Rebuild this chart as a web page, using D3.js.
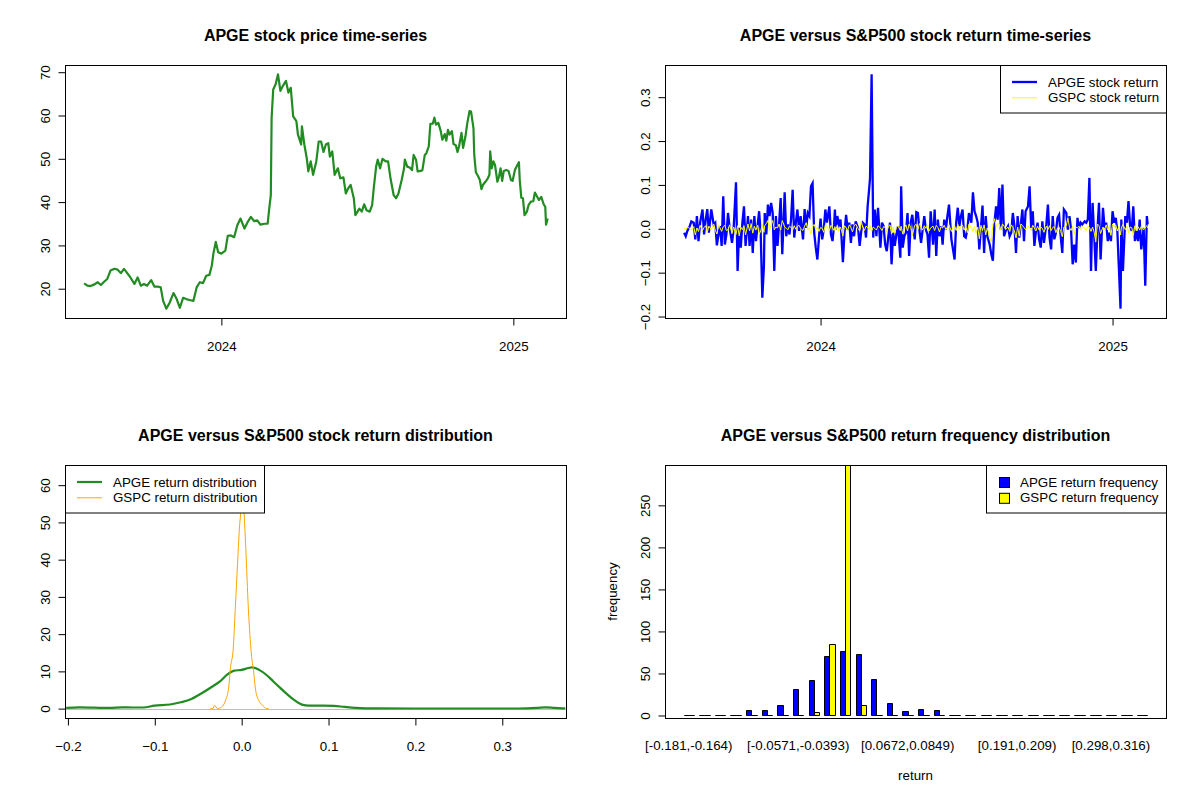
<!DOCTYPE html>
<html>
<head>
<meta charset="UTF-8" />
<title>APGE versus S&amp;P500</title>
<script src="https://cdn.jsdelivr.net/npm/d3@7"></script>
<style>
  body { margin: 0; background: #fff; }
  svg { font-family: "Liberation Sans", Arial, sans-serif; }
</style>
</head>
<body>
<svg></svg>
<script>
// ---- data (days counted from 2023-07-13) ----
const startDate = "2023-07-13"

const priceDays = [
  0, 4, 8, 13, 17, 21, 25, 29, 33, 38, 42, 46, 50, 54, 58, 63, 67, 71, 75, 79,
  84, 88, 92, 96, 99, 103, 107, 112, 116, 120, 124, 128, 132, 137, 141, 145, 149, 153, 157, 160,
  162, 165, 168, 172, 177, 180, 184, 188,
  192, 196, 201, 205, 209, 213, 217, 221, 226, 230, 232, 234, 235, 237, 240, 243, 246, 249, 253, 256,
  259, 262, 266, 268, 272, 273, 276, 279, 281, 284, 287, 291, 294, 297, 300, 303, 306, 308, 311, 314,
  318, 321, 325, 328, 331, 334, 338, 340, 345, 348, 351, 354, 358, 361, 363, 366, 368, 371, 374, 378,
  381, 384, 388, 391, 394,
  398, 401, 402, 405, 408, 411, 413, 416, 418, 422, 424, 427, 429, 432, 434, 437, 439, 441, 444, 447,
  449, 452, 454, 456, 458, 461, 463, 466, 468, 470, 473, 475, 478, 480, 483, 485, 488, 489, 491, 494,
  496, 498, 500, 503, 506, 508, 509, 511, 513, 515, 518, 520, 522, 524, 526, 529, 532, 535, 537, 540,
  542, 545, 546, 548, 550, 552, 555, 557, 560, 563, 565, 568, 570, 573, 576, 578, 579, 581
]
const apgePrice = [
  21.24, 20.7, 20.6, 21.0, 21.5, 20.85, 21.6, 22.25, 24.2, 24.6, 24.4, 23.6, 24.6, 23.6, 22.6, 21.1, 22.6, 20.7, 21.1, 20.7,
  22.0, 20.5, 20.5, 20.3, 17.2, 15.4, 16.7, 19.0, 17.6, 15.6, 17.9, 17.6, 17.4, 17.2, 20.3, 21.5, 21.3, 23.0, 23.2, 25.3,
  28.1, 30.8, 28.4, 28.1, 28.8, 32.2, 32.3, 31.9,
  34.65, 36.2, 33.9, 35.4, 36.6, 35.6, 35.8, 34.8, 35.0, 35.0, 38.5, 41.6, 59.5, 66.0, 67.2, 69.5, 65.7, 66.8, 68.0, 65.3,
  66.4, 59.8, 58.7, 55.6, 53.3, 57.5, 53.3, 50.2, 47.1, 49.4, 46.3, 49.4, 54.0, 54.0, 51.6, 53.3, 53.6, 50.5, 51.7, 46.3,
  47.8, 45.5, 45.7, 42.0, 43.2, 44.0, 40.9, 37.0, 38.5, 37.8, 39.5, 38.1, 37.8, 39.3, 43.2, 48.2, 49.8, 47.8, 50.0, 49.4,
  49.4, 45.5, 41.6, 40.9, 42.0,
  45.1, 47.8, 49.8, 48.2, 48.0, 47.4, 50.9, 49.8, 47.1, 47.2, 47.4, 50.9, 51.3, 52.9, 58.1, 58.1, 59.5, 57.9, 58.3, 56.4,
  54.4, 55.7, 54.2, 56.7, 55.6, 56.4, 53.4, 53.1, 51.6, 52.9, 56.0, 52.5, 55.2, 57.9, 61.0, 60.9, 57.1, 50.9, 46.9, 45.9,
  45.1, 43.0, 44.0, 44.7, 45.5, 46.3, 51.7, 47.8, 49.4, 48.6, 44.7, 45.9, 47.8, 44.9, 47.2, 47.4, 47.2, 45.1, 44.9, 47.4,
  48.2, 49.2, 45.1, 41.0, 40.9, 37.0, 37.8, 39.3, 40.1, 40.2, 42.2, 41.2, 40.5, 41.2, 39.5, 38.9, 34.8, 36.2
]

const retDays = [
  1, 3, 5, 8, 10, 13, 15, 17, 19, 21, 24, 26, 28, 30, 32, 35, 38, 40, 42, 44,
  46, 48, 50, 52, 54, 56, 58, 61, 63, 66, 68, 70, 72, 74, 76, 78, 81, 83, 85, 87,
  89, 91, 93, 95, 97, 99, 101, 102, 104, 106, 108, 110, 112, 114, 116, 118, 120, 122, 124, 127,
  129, 131, 133, 135, 137, 139, 141, 143, 145, 147, 150, 152, 154, 156, 158, 160, 162, 164, 166, 168,
  170, 172, 174, 176, 178, 180, 183, 185, 187, 189, 190, 191, 193, 195, 197, 200, 202, 204, 206, 208,
  210, 212, 214, 216, 219, 221, 223, 225, 227, 229, 231, 233, 234, 236, 238, 240, 242, 244, 247, 249,
  251, 253, 255, 257, 259, 261, 263, 265, 267, 269, 272, 273, 275, 277, 279, 281, 283, 285, 287, 290,
  292, 294, 296, 298, 300, 302, 304, 306, 308, 310, 313, 315, 317, 319, 321, 323, 325, 327, 329, 331,
  333, 336, 338, 340, 342, 344, 346, 348, 350, 352, 354, 356, 358, 361, 363, 365, 367, 369, 371, 373,
  375, 377, 379, 381, 384, 386, 388, 390, 392, 394, 396, 398, 400, 402, 404, 407, 409, 411, 413, 415,
  417, 419, 421, 423, 425, 427, 429, 432, 434, 436, 438, 440, 442, 444, 446, 448, 450, 452, 455, 457,
  459, 461, 463, 465, 467, 469, 471, 473, 475, 477, 480, 482, 484, 486, 488, 490, 492, 494, 496, 498,
  500, 503, 505, 507, 509, 511, 513, 515, 517, 519, 521, 523, 526, 528, 530, 532, 534, 536, 538, 540,
  542, 544, 546, 548, 549, 551, 554, 556, 558, 560, 562, 564, 566, 568, 570, 572, 574, 577, 579, 581,
  582
]
const apgeRet = [
  -0.009, -0.017, -0.005, 0.006, 0.017, 0.014, -0.024, 0.029, -0.028, 0.014,
  0.044, -0.013, 0.021, 0.045, -0.009, 0.044, 0.010, 0.014, -0.038, -0.013,
  0.006, -0.039, 0.074, -0.036, -0.013, 0.036, 0.002, -0.032, -0.002, 0.106,
  -0.096, 0.002, -0.043, 0.014, 0.051, -0.039, 0.029, -0.039, 0.021, -0.055,
  0.029, -0.028, 0.006, 0.040, -0.013, -0.157, -0.085, 0.036, -0.013, 0.055,
  0.029, 0.059, 0.036, -0.096, 0.029, -0.039, 0.010, 0.070, -0.058, 0.083,
  -0.017, 0.010, -0.013, 0.021, 0.089, -0.020, 0.014, 0.044, -0.005, 0.029,
  -0.024, 0.045, 0.002, 0.036, 0.029, 0.097, 0.104, -0.009, -0.043, -0.070,
  -0.020, 0.023, -0.024, -0.002, 0.044, 0.014, 0.051, -0.013, -0.028, 0.010,
  0.044, -0.002, 0.029, 0.010, 0.021, -0.076, -0.009, 0.032, -0.002, 0.014,
  -0.032, 0.010, -0.017, 0.017, 0.002, -0.039, -0.005, 0.014, 0.010, -0.020,
  0.051, 0.093, 0.116, 0.352, -0.020, 0.044, -0.017, 0.048, -0.043, 0.014,
  0.006, -0.036, -0.051, -0.017, 0.014, -0.081, -0.009, -0.039, -0.013, 0.006,
  -0.066, 0.097, -0.043, -0.017, -0.009, 0.036, -0.062, 0.014, 0.032, -0.024,
  0.038, 0.036, -0.005, -0.032, -0.002, 0.029, -0.002, -0.013, -0.066, 0.040,
  -0.036, 0.044, -0.062, 0.021, -0.017, 0.006, -0.036, 0.021, -0.002, 0.029,
  0.055, -0.024, -0.047, -0.070, 0.014, 0.048, 0.006, 0.029, 0.044, -0.017,
  -0.020, -0.002, 0.036, 0.014, 0.083, 0.040, 0.029, 0.014, -0.047, 0.002,
  0.053, -0.055, 0.029, -0.017, -0.036, -0.058, -0.073, 0.014, 0.051, 0.021,
  0.093, -0.002, 0.101, -0.017, -0.005, 0.006, -0.017, -0.009, 0.036, 0.006,
  -0.055, 0.029, -0.020, 0.010, 0.044, -0.028, 0.040, 0.051, 0.097, 0.002,
  0.040, -0.039, -0.005, 0.014, -0.024, -0.043, 0.017, -0.032, 0.010, 0.055,
  -0.020, -0.047, 0.029, -0.024, -0.009, 0.025, 0.032, -0.017, -0.055, 0.044,
  0.036, -0.002, 0.029, -0.002, -0.081, -0.036, -0.077, 0.025, 0.002, 0.014,
  0.010, 0.017, 0.014, 0.021, 0.116, -0.096, 0.059, -0.017, -0.096, -0.005,
  0.059, -0.070, 0.048, 0.002, 0.014, -0.028, -0.009, -0.028, 0.040, 0.014,
  0.025, -0.005, -0.092, -0.182, 0.021, -0.096, 0.029, 0.014, 0.063, 0.006,
  -0.005, 0.051, -0.028, -0.005, -0.028, 0.021, -0.047, 0.002, -0.130, 0.029,
  0.010
]
const gspcRet = [
  0.003, -0.002, 0.004, 0.001, -0.003, 0.005, -0.014, 0.002, -0.006, 0.008,
  -0.004, 0.003, 0.007, -0.008, 0.006, -0.002, 0.011, -0.003, -0.012, 0.009,
  0.002, -0.006, 0.005, 0.008, -0.004, -0.002, 0.009, -0.011, 0.004, -0.013,
  0.007, -0.016, 0.004, -0.002, 0.007, -0.014, 0.011, -0.005, 0.012, -0.010,
  0.006, -0.003, 0.008, -0.013, -0.005, 0.010, -0.008, 0.007, 0.012, 0.019,
  -0.004, 0.009, 0.019, -0.002, 0.004, 0.002, 0.011, -0.003, 0.019, 0.004,
  0.001, -0.002, 0.006, 0.003, -0.003, 0.007, -0.001, 0.005, 0.008, 0.001,
  -0.004, 0.006, 0.014, -0.003, 0.002, -0.012, 0.005, 0.010, -0.002, 0.004,
  -0.006, 0.003, 0.001, -0.008, 0.009, 0.006, -0.005, 0.008, 0.003, -0.004,
  0.005, -0.003, 0.008, -0.006, 0.004, -0.016, 0.007, 0.002, -0.004, 0.009,
  0.003, -0.007, 0.006, 0.011, 0.001, -0.005, 0.018, 0.002, -0.004, 0.006,
  0.003, -0.002, 0.008, -0.006, 0.004, 0.001, -0.003, 0.007, 0.002, -0.004,
  0.005, 0.003, -0.008, 0.006, 0.009, -0.012, 0.004, -0.010, 0.003, 0.007,
  -0.004, 0.006, -0.012, 0.002, 0.009, -0.005, 0.011, 0.003, -0.016, 0.008,
  0.010, -0.002, 0.012, 0.004, -0.003, 0.007, 0.001, 0.009, -0.005, 0.002,
  0.006, -0.004, 0.008, 0.003, -0.007, 0.005, 0.002, 0.008, -0.002, 0.004,
  0.009, -0.006, 0.003, 0.007, -0.004, 0.010, -0.002, 0.005, 0.008, -0.003,
  0.006, -0.009, 0.011, 0.003, -0.006, 0.005, -0.010, 0.004, -0.023, 0.008,
  -0.004, 0.009, -0.014, 0.002, -0.019, -0.030, 0.010, 0.023, 0.005, 0.012,
  0.010, -0.003, 0.011, 0.006, -0.002, 0.004, -0.006, 0.009, 0.003, -0.005,
  -0.021, 0.004, -0.017, 0.011, 0.008, 0.003, -0.002, 0.006, 0.004, -0.004,
  0.008, 0.002, -0.005, 0.006, -0.003, 0.004, 0.001, -0.008, 0.006, -0.002,
  0.007, -0.004, 0.003, 0.005, -0.009, 0.002, 0.004, -0.006, -0.018, 0.004,
  0.007, 0.025, 0.003, -0.004, 0.006, -0.013, 0.004, 0.002, 0.006, -0.003,
  0.005, 0.002, -0.004, 0.006, 0.003, -0.006, 0.004, -0.008, -0.030, 0.011,
  0.007, -0.011, 0.004, -0.002, 0.009, -0.003, 0.006, -0.015, 0.011, 0.005,
  0.009, -0.005, 0.006, -0.014, 0.002, 0.010, -0.002, 0.006, -0.009, 0.004,
  0.003, -0.015, 0.007, -0.004, 0.005, -0.003, 0.006, -0.002, 0.004, 0.007,
  0.002
]

// density curves
const apgeDensX = [
  -0.2020, -0.1869, -0.1520, -0.1377, -0.1254, -0.1131, -0.1004, -0.0824, -0.0701, -0.0578,
  -0.0455, -0.0332, -0.0250, -0.0168, -0.0086, 0.0000, 0.0078, 0.0119, 0.0201, 0.0283,
  0.0365, 0.0447, 0.0529, 0.0611, 0.0693, 0.0775, 0.0939, 0.1061, 0.1184, 0.1307,
  0.1553, 0.2373, 0.3193, 0.3400, 0.3500, 0.3602, 0.3725
]
const apgeDens = [
  0.20, 0.36, 0.20, 0.35, 0.30, 0.30, 0.80, 1.10, 1.70, 2.60,
  4.20, 6.00, 7.30, 9.10, 10.20, 10.40, 10.90, 11.10, 10.40, 9.10,
  7.30, 5.50, 3.75, 2.20, 1.07, 0.80, 0.80, 0.75, 0.45, 0.20,
  0.05, 0.03, 0.03, 0.20, 0.35, 0.20, 0.05
]
const gspcDensX = [
  -0.0360, -0.0332, -0.0311, -0.0279, -0.0230, -0.0189, -0.0148, -0.0127, -0.0098, -0.0074,
  -0.0045, -0.0025, -0.0012, 0.0000, 0.0008, 0.0020, 0.0029, 0.0045, 0.0078, 0.0111,
  0.0139, 0.0160, 0.0201, 0.0242, 0.0283, 0.0310
]
const gspcDens = [
  0, 0, 0.9, 0, 0.45, 2, 6, 11.3, 15.8, 26.5,
  40, 48.8, 52.4, 58, 62.9, 58, 52.4, 44.4, 26.5, 14.9,
  9.6, 5.1, 2, 0.9, 0, 0
]

// return frequency table
const binLabels = [
  "[-0.181,-0.164)", "[-0.164,-0.146)", "[-0.146,-0.128)", "[-0.128,-0.11)", "[-0.11,-0.0926)",
  "[-0.0926,-0.0749)", "[-0.0749,-0.0571)", "[-0.0571,-0.0393)", "[-0.0393,-0.0216)", "[-0.0216,-0.00383)",
  "[-0.00383,0.0139)", "[0.0139,0.0317)", "[0.0317,0.0494)", "[0.0494,0.0672)", "[0.0672,0.0849)",
  "[0.0849,0.103)", "[0.103,0.12)", "[0.12,0.138)", "[0.138,0.156)", "[0.156,0.174)",
  "[0.174,0.191)", "[0.191,0.209)", "[0.209,0.227)", "[0.227,0.245)", "[0.245,0.263)",
  "[0.263,0.28)", "[0.28,0.298)", "[0.298,0.316)", "[0.316,0.334)", "[0.334,0.352]"
]
const apgeFreq = [1, 1, 1, 0, 6, 6, 13, 31, 42, 71, 77, 73, 44, 15, 5, 8, 6, 0, 0, 0, 0, 0, 0, 0, 0, 0, 0, 0, 0, 1]
const gspcFreq = [0, 0, 0, 0, 0, 0, 0, 0, 4, 85, 298, 13, 0, 0, 0, 0, 0, 0, 0, 0, 0, 0, 0, 0, 0, 0, 0, 0, 0, 0]

const priceTicks = [20, 30, 40, 50, 60, 70]
const retTicks = [-0.2, -0.1, 0, 0.1, 0.2, 0.3]
const densYTicks = [0, 10, 20, 30, 40, 50, 60]
const densXTicks = [-0.2, -0.1, 0, 0.1, 0.2, 0.3]
const freqTicks = [0, 50, 100, 150, 200, 250]

// ---- set-up ----
const width = 1200
const height = 800
const fs = 13.33
const svg = d3.select("svg").attr("width", width).attr("height", height)
  .attr("viewBox", [0, 0, width, height])

const box = (ox, oy) => ({ left: ox + 65, right: ox + 566, top: oy + 65, bottom: oy + 318 })
const pad = ([a, b]) => [a - 0.04 * (b - a), b + 0.04 * (b - a)] // R style axis extension
const day0 = d3.utcParse("%Y-%m-%d")(startDate)
const toDate = (d) => d3.utcDay.offset(day0, d)

function frame(b, id) {
  svg.append("clipPath").attr("id", id).append("rect")
    .attr("x", b.left).attr("y", b.top)
    .attr("width", b.right - b.left).attr("height", b.bottom - b.top)
}

function drawBox(b) {
  svg.append("rect")
    .attr("x", b.left + 0.5).attr("y", b.top + 0.5)
    .attr("width", b.right - b.left).attr("height", b.bottom - b.top)
    .attr("fill", "none").attr("stroke", "black")
}

function yAxis(y, ticks, fmt, b) {
  const g = svg.append("g").attr("transform", `translate(${b.left + 0.5},0)`)
    .call(d3.axisLeft(y).tickValues(ticks).tickFormat(fmt).tickSize(7).tickSizeOuter(0))
    .attr("font-size", fs).attr("font-family", null)
  g.select(".domain").attr("d", `M0,${y(ticks[0])}V${y(ticks[ticks.length - 1])}`)
  g.selectAll(".tick text")
    .attr("x", 0).attr("y", -16).attr("dy", null)
    .attr("transform", "rotate(-90)").attr("text-anchor", "middle")
}

function xAxis(x, ticks, fmt, b) {
  const g = svg.append("g").attr("transform", `translate(0,${b.bottom + 0.5})`)
    .call(d3.axisBottom(x).tickValues(ticks).tickFormat(fmt).tickSize(7).tickSizeOuter(0))
    .attr("font-size", fs).attr("font-family", null)
  g.select(".domain").attr("d", `M${x(ticks[0])},0H${x(ticks[ticks.length - 1])}`)
  g.selectAll(".tick text").attr("y", 32).attr("dy", null)
}

function title(text, b) {
  svg.append("text")
    .attr("x", (b.left + b.right) / 2).attr("y", b.top - 24)
    .attr("text-anchor", "middle").attr("font-weight", "bold").attr("font-size", 16)
    .text(text)
}

// legend box sized to its text, anchored at a corner of the plot
function legend(b, corner, rows, tx) {
  const g = svg.append("g")
  const bg = g.append("rect").attr("fill", "white").attr("stroke", "black")
  const texts = rows.map((r) => g.append("text").attr("font-size", fs).attr("dy", "0.35em").text(r.label))
  const tw = d3.max(texts, (t) => t.node().getComputedTextLength())
  const w = Math.round(tx + tw + 7)
  const x0 = corner === "left" ? b.left : b.right - w
  const y0 = b.top
  bg.attr("x", x0 + 0.5).attr("y", y0 + 0.5).attr("width", w).attr("height", 47.5)
  rows.forEach((r, i) => {
    const cy = y0 + 17 + i * 15.8
    if (r.fill) {
      g.append("rect").attr("x", x0 + 13.5).attr("y", cy - 4.5).attr("width", 10).attr("height", 10)
        .attr("fill", r.fill).attr("stroke", "black")
    } else {
      g.append("line").attr("x1", x0 + 12).attr("x2", x0 + 37).attr("y1", cy).attr("y2", cy)
        .attr("stroke", r.stroke).attr("stroke-width", r.width)
    }
    texts[i].attr("x", x0 + tx).attr("y", cy)
  })
}

// ---- 1. price time-series ----
{
  const b = box(0, 0)
  frame(b, "c1")
  const data = priceDays.map((d, i) => ({ date: toDate(d), v: apgePrice[i] }))
  const x = d3.scaleUtc().domain(pad(d3.extent(priceDays)).map(toDate)).range([b.left, b.right])
  const y = d3.scaleLinear().domain(pad(d3.extent(apgePrice))).range([b.bottom, b.top])
  svg.append("path").datum(data).attr("clip-path", "url(#c1)")
    .attr("fill", "none").attr("stroke", "forestgreen").attr("stroke-width", 2.2)
    .attr("stroke-linejoin", "round")
    .attr("d", d3.line().x((d) => x(d.date)).y((d) => y(d.v)))
  drawBox(b)
  yAxis(y, priceTicks, d3.format("d"), b)
  xAxis(x, d3.utcYear.range(...x.domain()), d3.utcFormat("%Y"), b)
  title("APGE stock price time-series", b)
}

// ---- 2. return time-series ----
{
  const b = box(600, 0)
  frame(b, "c2")
  const n = Math.min(retDays.length, apgeRet.length, gspcRet.length)
  const data = d3.range(n).map((i) => ({ date: toDate(retDays[i]), a: apgeRet[i], g: gspcRet[i] }))
  const x = d3.scaleUtc().domain(pad(d3.extent(retDays)).map(toDate)).range([b.left, b.right])
  const y = d3.scaleLinear().domain(pad(d3.extent(apgeRet))).range([b.bottom, b.top])
  svg.append("path").datum(data).attr("clip-path", "url(#c2)")
    .attr("fill", "none").attr("stroke", "blue").attr("stroke-width", 2.3)
    .attr("d", d3.line().x((d) => x(d.date)).y((d) => y(d.a)))
  svg.append("path").datum(data).attr("clip-path", "url(#c2)")
    .attr("fill", "none").attr("stroke", "yellow").attr("stroke-width", 1)
    .attr("d", d3.line().x((d) => x(d.date)).y((d) => y(d.g)))
  drawBox(b)
  yAxis(y, retTicks, d3.format(".1f"), b)
  xAxis(x, d3.utcYear.range(...x.domain()), d3.utcFormat("%Y"), b)
  title("APGE versus S&P500 stock return time-series", b)
  legend(b, "right", [
    { label: "APGE stock return", stroke: "blue", width: 2.3 },
    { label: "GSPC stock return", stroke: "yellow", width: 1 }
  ], 48)
}

// ---- 3. return density ----
{
  const b = box(0, 400)
  frame(b, "c3")
  const x = d3.scaleLinear().domain(pad(d3.extent(apgeRet))).range([b.left, b.right])
  const y = d3.scaleLinear().domain(pad([0, d3.max(gspcDens)])).range([b.bottom, b.top])
  const line = d3.line().curve(d3.curveMonotoneX).x((d) => x(d[0])).y((d) => y(d[1]))
  const clip = svg.append("g").attr("clip-path", "url(#c3)")
  clip.append("line").attr("x1", b.left).attr("x2", b.right)
    .attr("y1", Math.round(y(0)) + 0.5).attr("y2", Math.round(y(0)) + 0.5)
    .attr("stroke", "#bebebe")
  clip.append("path").datum(d3.zip(apgeDensX, apgeDens))
    .attr("fill", "none").attr("stroke", "forestgreen").attr("stroke-width", 2.2).attr("d", line)
  clip.append("path").datum(d3.zip(gspcDensX, gspcDens))
    .attr("fill", "none").attr("stroke", "orange").attr("stroke-width", 1).attr("d", line)
  drawBox(b)
  yAxis(y, densYTicks, d3.format("d"), b)
  xAxis(x, densXTicks, d3.format(".1f"), b)
  title("APGE versus S&P500 stock return distribution", b)
  legend(b, "left", [
    { label: "APGE return distribution", stroke: "forestgreen", width: 2.2 },
    { label: "GSPC return distribution", stroke: "orange", width: 1 }
  ], 48)
}

// ---- 4. return frequency barplot ----
{
  const b = box(600, 400)
  const nb = binLabels.length
  const x = d3.scaleLinear().domain(pad([1, 3 * nb])).range([b.left, b.right])
  const top = d3.max(gspcFreq.concat(apgeFreq))
  const y = d3.scaleLinear().domain([-0.01 * top, top]).range([b.bottom, b.top])
  const bars = []
  apgeFreq.forEach((v, k) => bars.push({ u: 3 * k + 1, v, fill: "blue" }))
  gspcFreq.forEach((v, k) => bars.push({ u: 3 * k + 2, v, fill: "yellow" }))
  svg.append("g").attr("stroke", "black").attr("stroke-width", 1)
    .selectAll("path").data(bars).join("path")
    .attr("fill", (d) => d.fill)
    .attr("d", (d) => {
      const x0 = Math.round(x(d.u)) + 0.5, x1 = Math.round(x(d.u + 1)) + 0.5
      const y0 = Math.round(y(0)) + 0.5, y1 = Math.round(y(d.v)) + 0.5
      return `M${x0},${y0}H${x1}V${y1}H${x0}Z`
    })
  drawBox(b)
  yAxis(y, freqTicks, d3.format("d"), b)

  // group names, skipping labels that would overlap (like R's axis)
  const names = svg.append("g").attr("font-size", fs).attr("text-anchor", "middle")
  const mWidth = names.append("text").text("m").node().getComputedTextLength()
  names.select("text").remove()
  let lastRight = -Infinity
  binLabels.forEach((lab, k) => {
    const cx = x(3 * k + 2)
    const t = names.append("text").attr("x", cx).attr("y", b.bottom + 32).text(lab)
    const w = t.node().getComputedTextLength()
    if (cx - w / 2 > lastRight + mWidth) lastRight = cx + w / 2
    else t.remove()
  })

  svg.append("text").attr("x", (b.left + b.right) / 2).attr("y", b.bottom + 62)
    .attr("text-anchor", "middle").attr("font-size", fs).text("return")
  svg.append("text").attr("transform", `translate(${b.left - 48},${(b.top + b.bottom) / 2}) rotate(-90)`)
    .attr("text-anchor", "middle").attr("font-size", fs).text("frequency")
  title("APGE versus S&P500 return frequency distribution", b)
  legend(b, "right", [
    { label: "APGE return frequency", fill: "blue" },
    { label: "GSPC return frequency", fill: "yellow" }
  ], 34)
}
</script>
</body>
</html>
